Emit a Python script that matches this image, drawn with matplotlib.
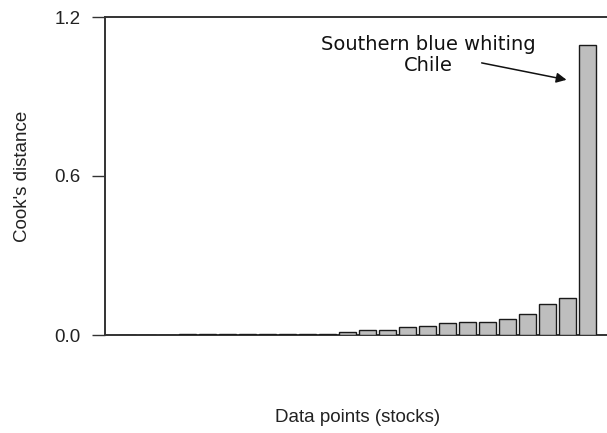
import numpy as np
import matplotlib
matplotlib.use("Agg")
import matplotlib.pyplot as plt

# Cook's distance per stock, sorted ascending
cooks_d = [0.0015, 0.0015, 0.0015, 0.002, 0.002, 0.002, 0.0025, 0.003,
           0.003, 0.004, 0.005, 0.013, 0.018, 0.020, 0.031, 0.034,
           0.044, 0.050, 0.050, 0.060, 0.079, 0.118, 0.138, 1.094]
y_ticks = [0.0, 0.6, 1.2]
y_tick_labels = ["0.0", "0.6", "1.2"]
note_text = "Southern blue whiting\nChile"

W, H = 607, 433
fig = plt.figure(figsize=(W / 100, H / 100), dpi=100)
# axes: left spine at x=105, top at y=17, bottom at y=335, runs past right edge
ax = fig.add_axes([105 / W, 1 - 335 / H, (620 - 105) / W, (335 - 17) / H])

x = np.arange(len(cooks_d))
ax.bar(x, cooks_d, width=0.85, color="#bebebe", edgecolor="#1a1a1a", linewidth=1.0, zorder=3)

# bar centres at 127.5 + 20k px
ax.set_xlim((105 - 127.5) / 20, (620 - 127.5) / 20)
ax.set_ylim(0, 1.2)
ax.set_xticks([])
ax.set_yticks(y_ticks)
ax.set_yticklabels(y_tick_labels, fontfamily="Liberation Sans", fontsize=13.5, color="#222222")
ax.tick_params(axis="y", direction="out", length=9.5, width=1.0, color="#333333", pad=8)

for side in ["left", "top", "bottom"]:
    ax.spines[side].set_color("#333333")
    ax.spines[side].set_linewidth(1.4)
ax.spines["right"].set_visible(False)

fig.text(23 / W, 1 - 176 / H, "Cook's distance", rotation=90, ha="center", va="center",
         fontfamily="Liberation Sans", fontsize=13.5, color="#222222")
fig.text(358 / W, 1 - 417 / H, "Data points (stocks)", ha="center", va="center",
         fontfamily="Liberation Sans", fontsize=13.5, color="#222222")

# annotation of the outlier
ax.annotate(note_text, xy=(x[-1] - 1.05, 0.963), xycoords="data",
            xytext=(428 / W, 1 - 55 / H), textcoords="figure fraction",
            ha="center", va="center", fontfamily="DejaVu Sans", fontsize=14,
            multialignment="center", color="#111111", linespacing=1.1,
            arrowprops=dict(arrowstyle="-|>", color="#111111", lw=1.1,
                            mutation_scale=15, shrinkA=0, shrinkB=0,
                            patchA=None, relpos=(0.75, 0.3)))

fig.savefig("out.png", dpi=100)
